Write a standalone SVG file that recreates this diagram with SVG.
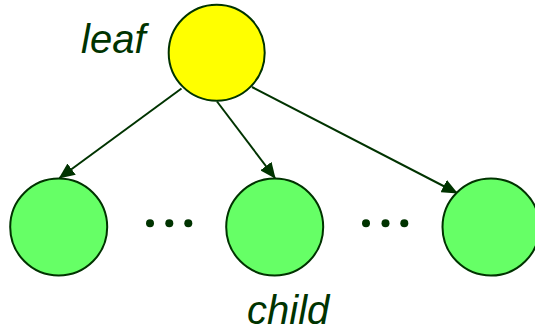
<svg xmlns="http://www.w3.org/2000/svg" width="535" height="332" viewBox="0 0 535 332">
  <style>
    .node { stroke: #003300; stroke-width: 2; }
    .leaf { fill: #ffff00; }
    .child { fill: #66ff66; }
    .edge { stroke: #003300; stroke-width: 2; fill: none; marker-end: url(#arrow); }
    .label { font-family: "Liberation Sans", Arial, sans-serif; font-style: italic; font-size: 40px; fill: #003300; }
    .dot { fill: #003300; }
  </style>
  <defs>
    <marker id="arrow" markerWidth="8" markerHeight="7" refX="7.5" refY="3.5" orient="auto" markerUnits="strokeWidth">
      <path d="M0,0 L8,3.5 L0,7 Z" fill="#003300"/>
    </marker>
  </defs>

  <g id="connectors">
    <line class="edge" x1="181.5" y1="88.5" x2="59.5" y2="178"/>
    <line class="edge" x1="217" y1="101.5" x2="275" y2="178"/>
    <line class="edge" x1="252" y1="87" x2="457" y2="193"/>
  </g>

  <g id="leaf">
    <circle class="node leaf" cx="216.7" cy="52.7" r="48"/>
    <text class="label" x="81" y="53">leaf</text>
  </g>

  <g id="child1">
    <circle class="node child" cx="58.7" cy="227" r="48.5"/>
  </g>
  <g id="child2">
    <circle class="node child" cx="274.7" cy="227" r="48.5"/>
    <text class="label" x="247" y="323.5">child</text>
  </g>
  <g id="child3">
    <circle class="node child" cx="491" cy="227" r="48.5"/>
  </g>

  <g id="ellipsis1">
    <circle class="dot" cx="150" cy="223.3" r="4"/>
    <circle class="dot" cx="169.3" cy="223.3" r="4"/>
    <circle class="dot" cx="188.3" cy="223.3" r="4"/>
  </g>
  <g id="ellipsis2">
    <circle class="dot" cx="366" cy="223.3" r="4"/>
    <circle class="dot" cx="385.5" cy="223.3" r="4"/>
    <circle class="dot" cx="404.3" cy="223.3" r="4"/>
  </g>
</svg>
